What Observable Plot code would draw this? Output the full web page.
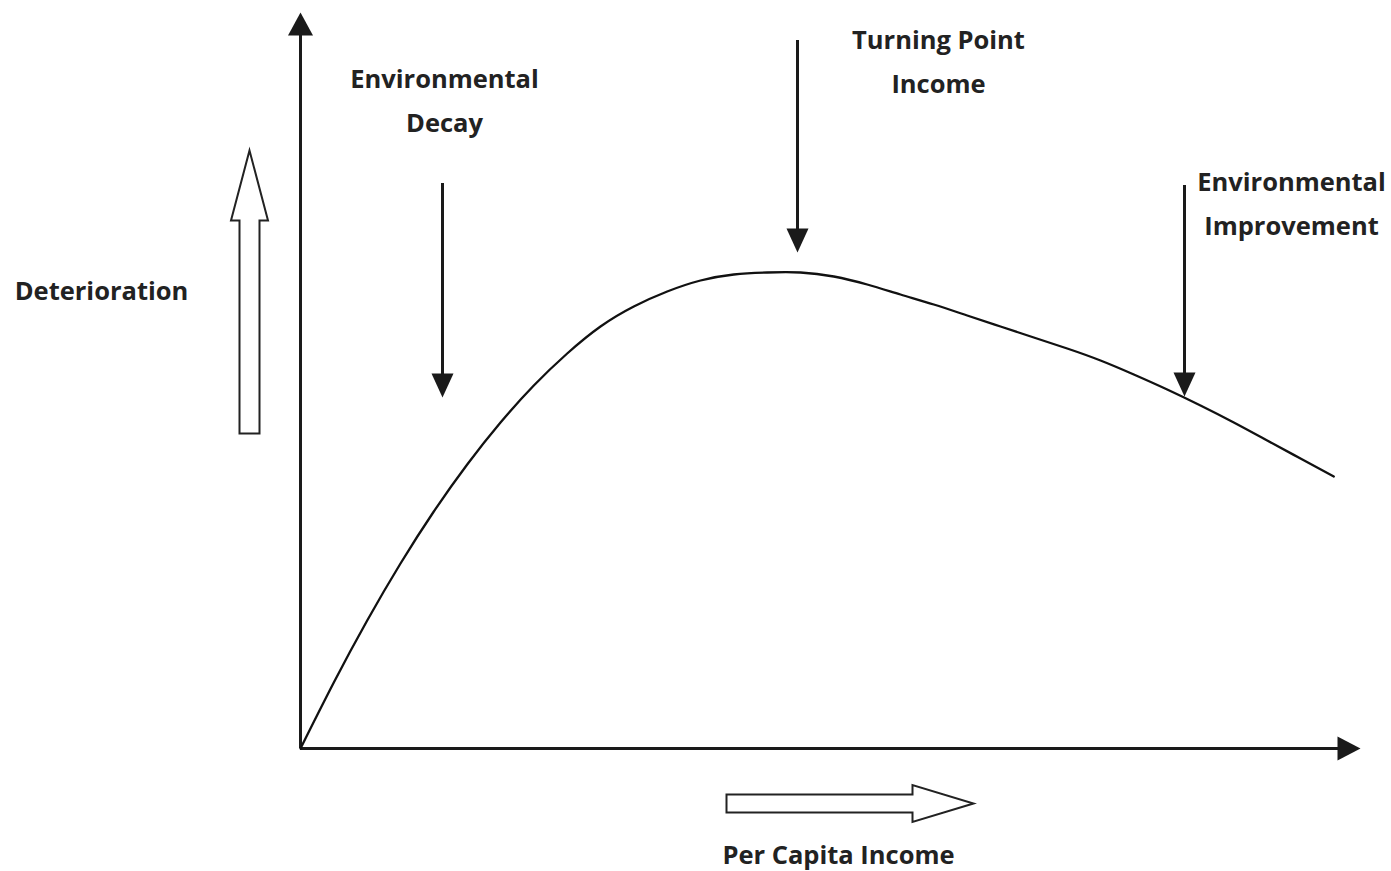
<!DOCTYPE html>
<html>
<head>
<meta charset="utf-8">
<script src="https://cdn.jsdelivr.net/npm/d3@7"></script>
<script src="https://cdn.jsdelivr.net/npm/@observablehq/plot@0.6"></script>
<style>
  html, body { margin: 0; padding: 0; background: #fff; }
  #chart svg { display: block; }
</style>
</head>
<body>
<div id="chart"></div>
<script>
// Curve: per capita income (x) vs environmental deterioration (y), arbitrary units
const income = [0, 0.333, 0.667, 1.0, 1.333, 1.667, 2.0, 2.333, 2.667, 3.0, 3.333, 3.667, 4.0, 4.333, 4.667, 5.0,
                5.333, 5.667, 6.0, 6.333, 6.667, 7.0, 7.333, 7.667, 8.0, 8.333, 8.667, 9.0, 9.333, 9.667, 10.0, 10.333];
const deterioration = [0, 0.66, 1.28, 1.85, 2.37, 2.84, 3.26, 3.63, 3.95, 4.22, 4.42, 4.57, 4.68, 4.74, 4.76, 4.76,
                       4.72, 4.64, 4.54, 4.44, 4.33, 4.22, 4.11, 4.00, 3.88, 3.74, 3.59, 3.43, 3.26, 3.08, 2.90, 2.72];

// Axis extents (arrow tips)
const axisXEnd = 10.6;
const axisYEnd = 7.36;

// Pointer arrows (income where they point, tip level, top level)
const pointerIncome = [1.42, 4.97, 8.84];
const pointerTip = [3.51, 4.96, 3.52];
const pointerTop = [5.65, 7.08, 5.63];

// Labels
const labels = ["Deterioration", "Environmental\nDecay", "Turning Point\nIncome", "Environmental\nImprovement", "Per Capita Income"];
const labelX = [-1.99, 1.44, 6.38, 9.91, 5.38];
const labelY = [4.63, 6.53, 6.92, 5.50, -1.015];

// Hollow direction arrows (tip positions)
const hollowX = [-0.51, 6.73];
const hollowY = [5.98, -0.55];
const hollowRotate = [0, 90];

// --- build tables ---
const curve = income.map((x, i) => ({x, y: deterioration[i]}));
const pointers = pointerIncome.map((x, i) => ({x, tip: pointerTip[i], top: pointerTop[i]}));
const labelRows = labels.map((t, i) => ({t, x: labelX[i], y: labelY[i]}));

// --- custom symbols (drawn with tip at origin, pointing up) ---
function headSymbol(len, wid) {
  return {draw(ctx) {
    ctx.moveTo(0, 0);
    ctx.lineTo(wid / 2, len);
    ctx.lineTo(-wid / 2, len);
    ctx.closePath();
  }};
}
function blockArrow(len, headLen, headWid, shaftWid) {
  return {draw(ctx) {
    ctx.moveTo(0, 0);
    ctx.lineTo(headWid / 2, headLen);
    ctx.lineTo(shaftWid / 2, headLen);
    ctx.lineTo(shaftWid / 2, len);
    ctx.lineTo(-shaftWid / 2, len);
    ctx.lineTo(-shaftWid / 2, headLen);
    ctx.lineTo(-headWid / 2, headLen);
    ctx.closePath();
  }};
}

const ink = "#1a1a1a";
const pxPerUnit = 100;

const chart = Plot.plot({
  width: 1391,
  height: 871,
  margin: 0,
  x: {domain: [-3, 10.91], axis: null},
  y: {domain: [-1.23, 7.48], axis: null},
  style: {background: "#fff", fontFamily: "'Open Sans', sans-serif"},
  marks: [
    // axes
    Plot.ruleY([0], {x1: 0, x2: axisXEnd - 20 / pxPerUnit, stroke: ink, strokeWidth: 3}),
    Plot.ruleX([0], {y1: 0, y2: axisYEnd - 20 / pxPerUnit, stroke: ink, strokeWidth: 3}),
    Plot.dot([0], {x: axisXEnd, y: 0, symbol: headSymbol(23, 24), rotate: 90, fill: ink, stroke: "none"}),
    Plot.dot([0], {x: 0, y: axisYEnd, symbol: headSymbol(23, 25), rotate: 0, fill: ink, stroke: "none"}),
    // curve
    Plot.line(curve, {x: "x", y: "y", curve: "natural", stroke: "#111", strokeWidth: 2.3}),
    // pointer arrows
    Plot.ruleX(pointers, {x: "x", y1: d => d.tip + 20 / pxPerUnit, y2: "top", stroke: ink, strokeWidth: 3}),
    Plot.dot(pointers, {x: "x", y: "tip", symbol: headSymbol(24, 22), rotate: 180, fill: ink, stroke: "none"}),
    // hollow direction arrows
    Plot.dot([0], {x: hollowX[0], y: hollowY[0], rotate: hollowRotate[0], symbol: blockArrow(283, 70, 37, 20),
      fill: "#fff", stroke: "#222", strokeWidth: 2}),
    Plot.dot([0], {x: hollowX[1], y: hollowY[1], rotate: hollowRotate[1], symbol: blockArrow(247, 61, 37, 18),
      fill: "#fff", stroke: "#222", strokeWidth: 2}),
    // labels
    Plot.text(labelRows, {x: "x", y: "y", text: "t", fontSize: 25.5, fontWeight: 700, fill: "#222",
      lineHeight: 1.74, lineAnchor: "middle", textAnchor: "middle"})
  ]
});
document.getElementById("chart").appendChild(chart);
</script>
</body>
</html>
